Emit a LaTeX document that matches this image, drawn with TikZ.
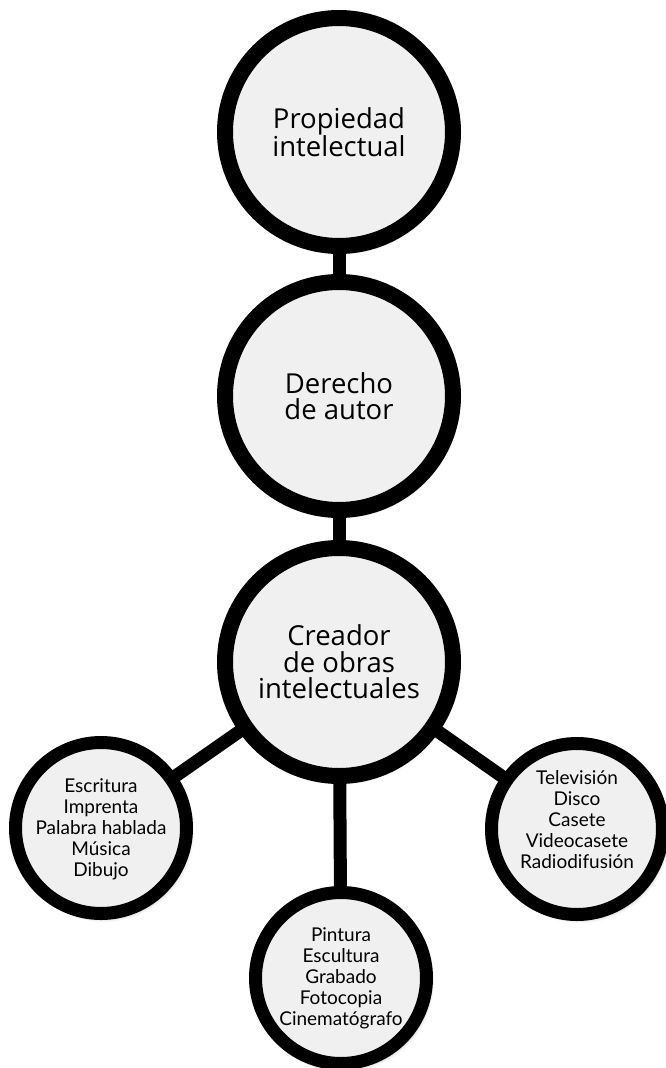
\documentclass[tikz,border=0pt]{standalone}
\usepackage{fontspec}
\setmainfont{Open Sans}
\newfontfamily\smallfont{Lato}
\usetikzlibrary{shadows.blur}
\definecolor{fillgrey}{HTML}{F0F0F0}
\tikzset{
  bigcircle/.style={circle, draw=black, line width=16pt, fill=fillgrey, minimum size=228pt, inner sep=0pt, align=center,
    font=\fontsize{27.5}{26.5}\selectfont,
    blur shadow={shadow xshift=3pt, shadow yshift=-4pt, shadow blur steps=6, shadow opacity=35, shadow blur radius=5pt}},
  smallcircle/.style={circle, draw=black, line width=13pt, fill=fillgrey, minimum size=171pt, inner sep=0pt,
    blur shadow={shadow xshift=3pt, shadow yshift=-4pt, shadow blur steps=6, shadow opacity=35, shadow blur radius=5pt}},
  smalltext/.style={align=center, inner sep=0pt, font=\smallfont\fontsize{19}{21}\selectfont},
  link/.style={draw=black, line width=13pt}
}
\begin{document}
\begin{tikzpicture}[x=1pt, y=-1pt]
\useasboundingbox (0,0) rectangle (666,1068);
\coordinate (p1) at (339,132);
\coordinate (p2) at (339,396);
\coordinate (p3) at (339,662);
\coordinate (pl) at (101,828);
\coordinate (pr) at (577,829);
\coordinate (pb) at (341,978);
\draw[link] (p1) -- (p2);
\draw[link] (p2) -- (p3);
\draw[link] (p3) -- (pl);
\draw[link] (p3) -- (pr);
\draw[link] (p3) -- (pb);
\node[bigcircle] (c1) at (p1) {Propiedad\\intelectual};
\node[bigcircle] (c2) at (p2) {Derecho\\de autor};
\node[bigcircle] (c3) at (p3) {Creador\\de obras\\intelectuales};
\node[smallcircle] (cl) at (pl) {};
\node[smallcircle] (cr) at (pr) {};
\node[smallcircle] (cb) at (pb) {};
\node[smalltext] (tl) at (101,829) {Escritura\\Imprenta\\Palabra hablada\\Música\\Dibujo};
\node[smalltext] (tr) at (577,820) {Televisión\\Disco\\Casete\\Videocasete\\Radiodifusión};
\node[smalltext] (tb) at (341,978) {Pintura\\Escultura\\Grabado\\Fotocopia\\Cinematógrafo};
\end{tikzpicture}
\end{document}
